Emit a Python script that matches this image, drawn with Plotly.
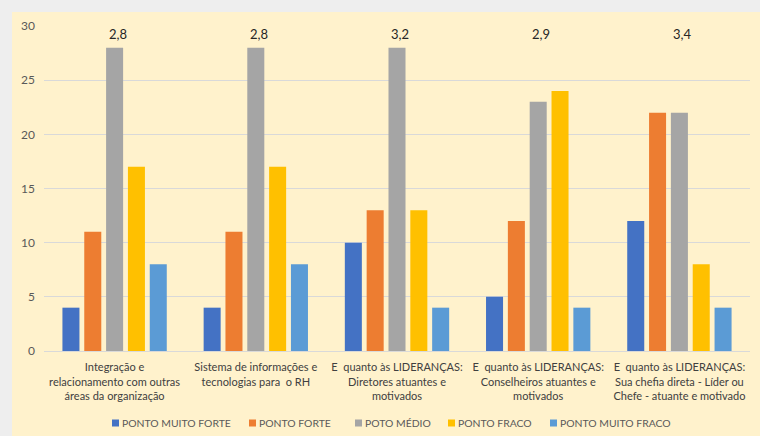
import plotly.graph_objects as go

categories = [
    "Integração e<br>relacionamento com outras<br>áreas da organização",
    "Sistema de informações e<br>tecnologias para  o RH<br> ",
    "E  quanto às LIDERANÇAS:<br>Diretores atuantes e<br>motivados",
    "E  quanto às LIDERANÇAS:<br>Conselheiros atuantes e<br>motivados",
    "E  quanto às LIDERANÇAS:<br>Sua chefia direta - Líder ou<br>Chefe - atuante e motivado",
]
series_names = ["PONTO MUITO FORTE", "PONTO FORTE", "POTO MÉDIO", "PONTO FRACO", "PONTO MUITO FRACO"]
muito_forte = [4, 4, 10, 5, 12]
forte = [11, 11, 13, 12, 22]
medio = [28, 28, 28, 23, 22]
fraco = [17, 17, 13, 24, 8]
muito_fraco = [8, 8, 4, 4, 4]
medias = ["2,8", "2,8", "3,2", "2,9", "3,4"]
colors = ["#4472C4", "#ED7D31", "#A5A5A5", "#FFC000", "#5B9BD5"]

# layout constants (pixels)
W, H = 760, 436
L, R, T, B = 44, 10, 26, 85
PW, PH = W - L - R, H - T - B
legend_px = [112, 249, 355, 448, 550]   # left edge of each legend swatch
legend_y = 423

def px_x(p):
    return (p - L) / PW

def px_y(q):
    return (H - B - q) / PH

FONT = "Lato"
fig = go.Figure()
for name, vals, c in zip(series_names, [muito_forte, forte, medio, fraco, muito_fraco], colors):
    fig.add_trace(go.Bar(x=categories, y=vals, name=name, marker_color=c, marker_line_width=0))

for cat, m in zip(categories, medias):
    fig.add_annotation(x=cat, y=29.3, text=m, showarrow=False, xshift=3,
                       font=dict(family=FONT, size=13, color="#262626"), yanchor="middle")

fig.add_shape(type="rect", xref="paper", yref="paper", x0=px_x(12), x1=px_x(W + 20),
              y0=px_y(H + 20), y1=px_y(12), fillcolor="#FFF2CC", line_width=0, layer="below")

# custom legend
for name, c, lx in zip(series_names, colors, legend_px):
    fig.add_shape(type="rect", xref="paper", yref="paper", x0=px_x(lx), x1=px_x(lx + 7),
                  y0=px_y(legend_y + 3.5), y1=px_y(legend_y - 3.5), fillcolor=c, line_width=0)
    fig.add_annotation(xref="paper", yref="paper", x=px_x(lx + 8), y=px_y(legend_y), text=name,
                       showarrow=False, xanchor="left", yanchor="middle",
                       font=dict(family=FONT, size=10.4, color="#595959"))

fig.update_layout(
    width=W, height=H,
    margin=dict(l=L, r=R, t=T, b=B, autoexpand=False),
    paper_bgcolor="#EEEEEE",
    plot_bgcolor="rgba(0,0,0,0)",
    barmode="group", bargap=0.227, bargroupgap=0.22,
    font=dict(family=FONT, size=11, color="#595959"),
    showlegend=False,
)
fig.update_yaxes(range=[0, 30], dtick=5, showgrid=True, gridcolor="#D9D9D9", gridwidth=1,
                 zeroline=False, showline=False, ticks="", ticklabelstandoff=8, automargin=False,
                 tickfont=dict(family=FONT, size=12, color="#595959"))
fig.update_xaxes(showline=True, linecolor="#D9D9D9", ticks="", showgrid=False, automargin=False,
                 ticklabelstandoff=6,
                 tickfont=dict(family=FONT, size=11, color="#404040"), tickangle=0)

fig.write_html("out.html")
